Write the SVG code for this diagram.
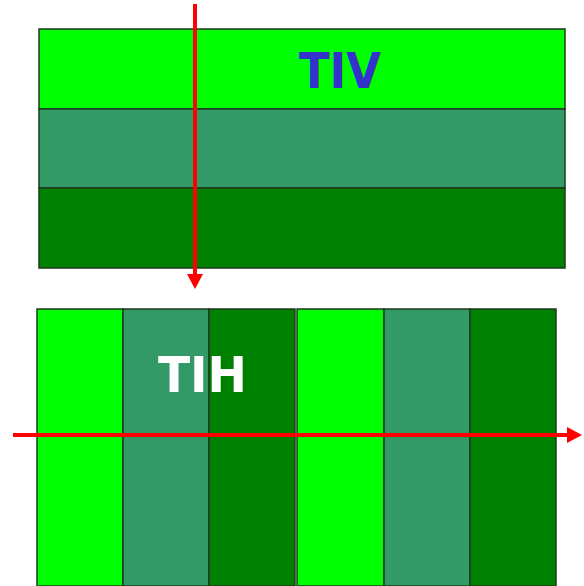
<svg xmlns="http://www.w3.org/2000/svg" width="584" height="586" viewBox="0 0 584 586">
<defs>
<style>
.b{stroke:#1c3a1c;stroke-width:1.5}
.l{fill:#00ff00}
.m{fill:#339966}
.d{fill:#008000}
.ar{stroke:#ff0000;stroke-width:4;fill:none}
.lbl{font-family:"DejaVu Sans",Verdana,sans-serif;font-weight:bold;font-size:50px}
</style>
<marker id="ah" markerUnits="userSpaceOnUse" markerWidth="18" markerHeight="16" refX="0" refY="8" orient="auto">
<path d="M0,0 L15,8 L0,16 Z" fill="#ff0000"/>
</marker>
</defs>
<g id="tiv">
<rect class="b l" x="39" y="29" width="526" height="80"/>
<rect class="b m" x="39" y="109" width="526" height="79"/>
<rect class="b d" x="39" y="188" width="526" height="80"/>
<text class="lbl" x="299" y="88" fill="#3333cc" textLength="82" lengthAdjust="spacingAndGlyphs">TIV</text>
</g>
<g id="tih">
<rect class="b l" x="37" y="309" width="86" height="277"/>
<rect class="b m" x="123" y="309" width="86" height="277"/>
<rect class="b d" x="209" y="309" width="86" height="277"/>
<rect class="b l" x="297" y="309" width="87" height="277"/>
<rect class="b m" x="384" y="309" width="86" height="277"/>
<rect class="b d" x="470" y="309" width="86" height="277"/>
<text class="lbl" x="158" y="392" fill="#ffffff" textLength="89" lengthAdjust="spacingAndGlyphs">TIH</text>
</g>
<g id="connectors">
<line class="ar" x1="195" y1="4" x2="195" y2="274" marker-end="url(#ah)"/>
<line class="ar" x1="13" y1="435" x2="567" y2="435" marker-end="url(#ah)"/>
</g>
</svg>
